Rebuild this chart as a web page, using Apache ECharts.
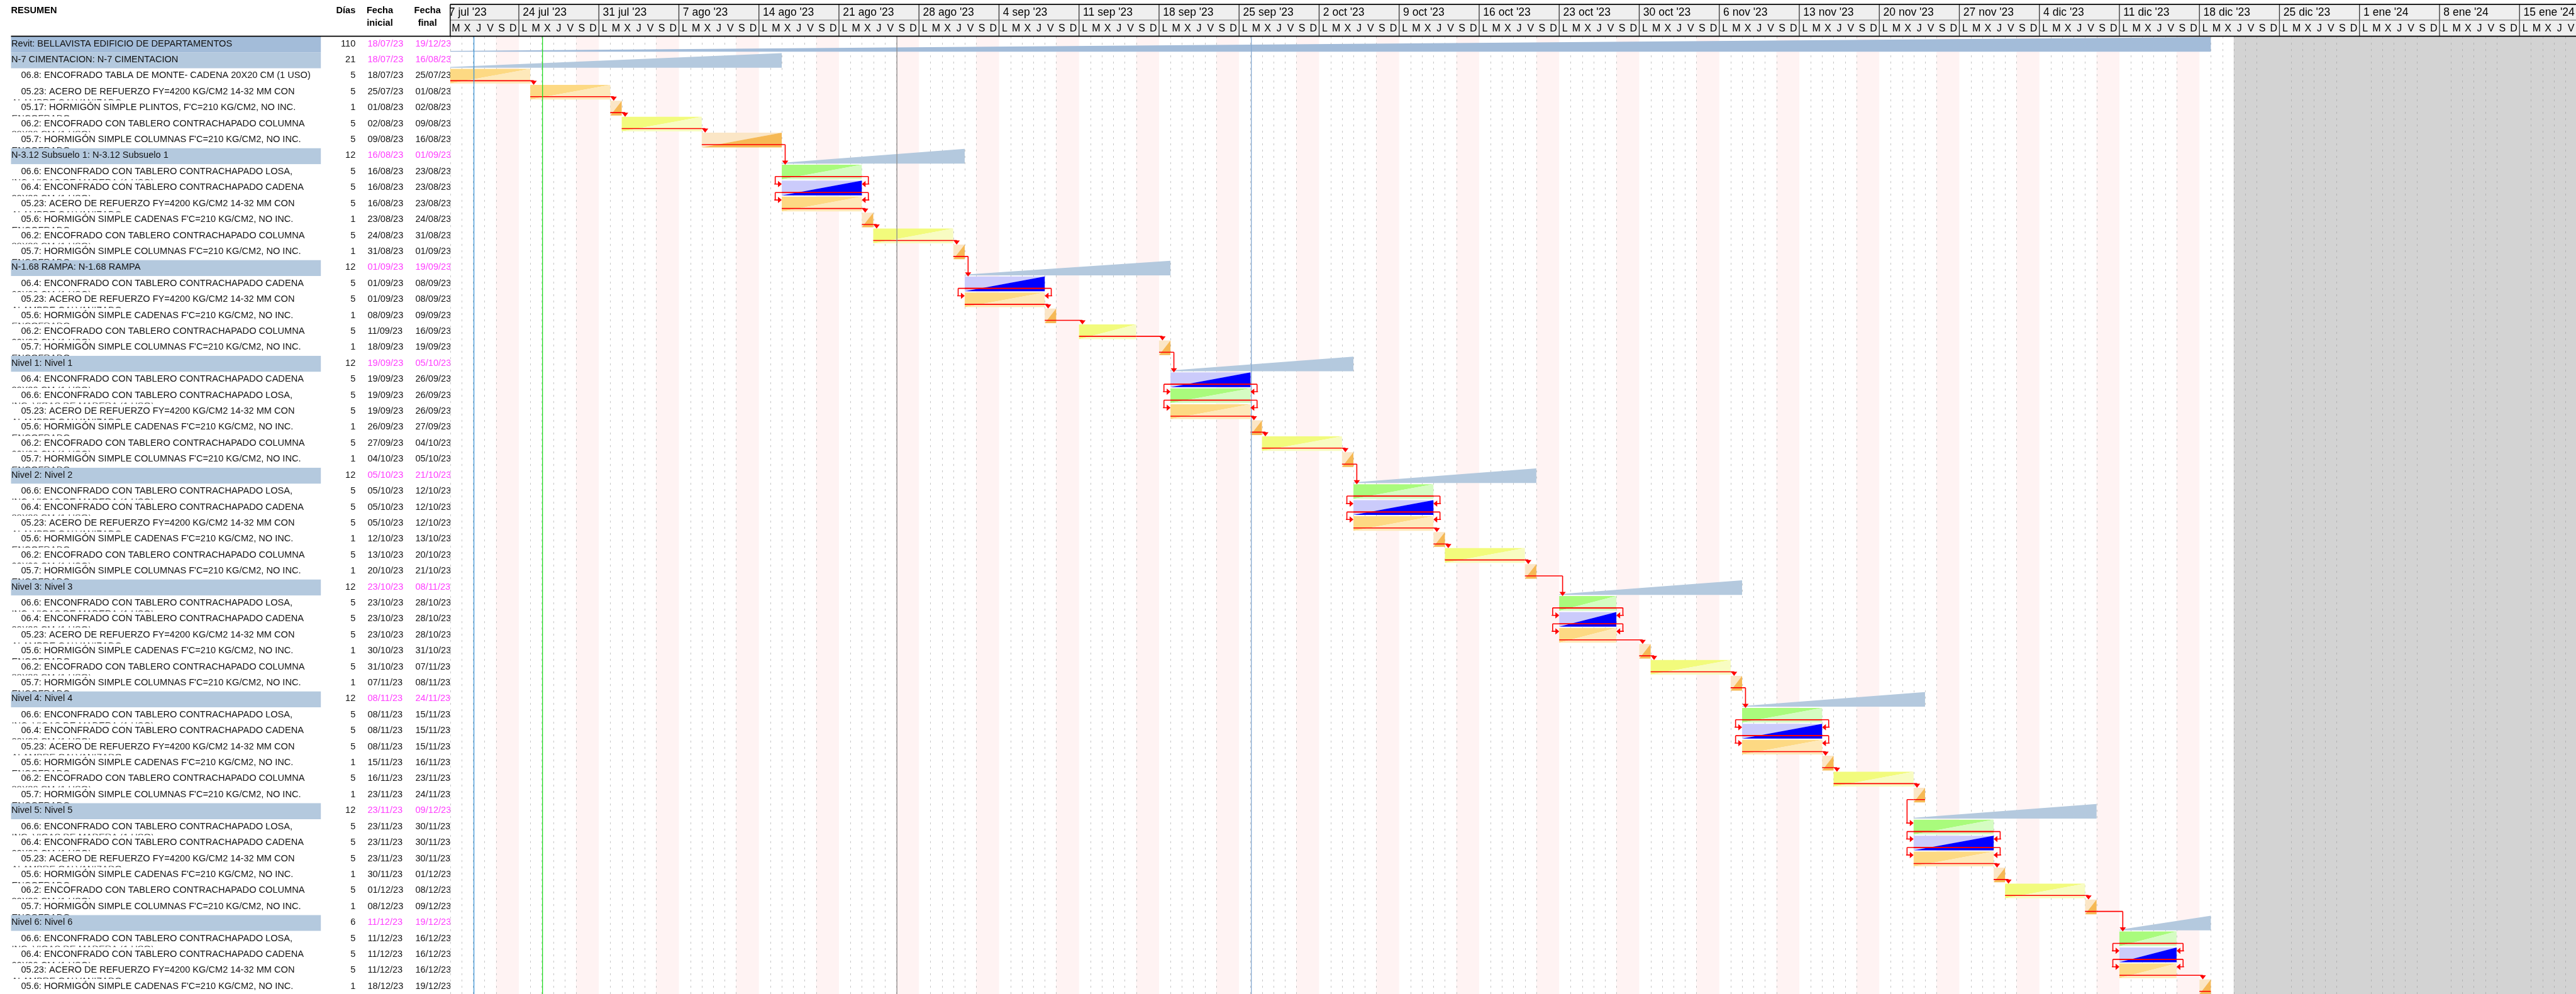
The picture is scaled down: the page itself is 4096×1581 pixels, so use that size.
<!DOCTYPE html>
<html lang="es">
<head>
<meta charset="utf-8">
<title>BELLAVISTA EDIFICIO DE DEPARTAMENTOS</title>
<script src="https://cdn.jsdelivr.net/npm/echarts@6/dist/echarts.min.js"></script>
<style>
html, body { margin: 0; padding: 0; background: #fff; }
#chart { width: 4096px; height: 1581px; }
</style>
</head>
<body>
<div id="chart"></div>
<script>
// ---- Schedule ---------------------------------------------------------------
// Work items: code -> [description, wrapped second line of the description]
const taskText = {
  '06.8': ['ENCOFRADO TABLA DE MONTE- CADENA 20X20 CM (1 USO)', ''],
  '05.23': ['ACERO DE REFUERZO FY=4200 KG/CM2 14-32 MM CON', 'ALAMBRE GALVANIZADO'],
  '05.17': ['HORMIGÓN SIMPLE PLINTOS, F\'C=210 KG/CM2, NO INC.', 'ENCOFRADO'],
  '06.2': ['ENCOFRADO CON TABLERO CONTRACHAPADO COLUMNA', '30X30 CM (1 USO)'],
  '05.7': ['HORMIGÓN SIMPLE COLUMNAS F\'C=210 KG/CM2, NO INC.', 'ENCOFRADO'],
  '06.6': ['ENCONFRADO CON TABLERO CONTRACHAPADO LOSA,', 'INC. VIGAS DE MADERA (1 USO)'],
  '06.4': ['ENCONFRADO CON TABLERO CONTRACHAPADO CADENA', '20X20 CM (1 USO)'],
  '05.6': ['HORMIGÓN SIMPLE CADENAS F\'C=210 KG/CM2, NO INC.', 'ENCOFRADO']
};

// One entry per row: project / phase names, or a work-item code
const rowItems = [
  'Revit: BELLAVISTA EDIFICIO DE DEPARTAMENTOS',
  'N-7 CIMENTACION: N-7 CIMENTACION', '06.8', '05.23', '05.17', '06.2', '05.7',
  'N-3.12 Subsuelo 1: N-3.12 Subsuelo 1', '06.6', '06.4', '05.23', '05.6', '06.2', '05.7',
  'N-1.68 RAMPA: N-1.68 RAMPA', '06.4', '05.23', '05.6', '06.2', '05.7',
  'Nivel 1: Nivel 1', '06.4', '06.6', '05.23', '05.6', '06.2', '05.7',
  'Nivel 2: Nivel 2', '06.6', '06.4', '05.23', '05.6', '06.2', '05.7',
  'Nivel 3: Nivel 3', '06.6', '06.4', '05.23', '05.6', '06.2', '05.7',
  'Nivel 4: Nivel 4', '06.6', '06.4', '05.23', '05.6', '06.2', '05.7',
  'Nivel 5: Nivel 5', '06.6', '06.4', '05.23', '05.6', '06.2', '05.7',
  'Nivel 6: Nivel 6', '06.6', '06.4', '05.23', '05.6'
];

const rowDays = [
  110,
  21, 5, 5, 1, 5, 5,
  12, 5, 5, 5, 1, 5, 1,
  12, 5, 5, 1, 5, 1,
  12, 5, 5, 5, 1, 5, 1,
  12, 5, 5, 5, 1, 5, 1,
  12, 5, 5, 5, 1, 5, 1,
  12, 5, 5, 5, 1, 5, 1,
  12, 5, 5, 5, 1, 5, 1,
  6, 5, 5, 5, 1
];

const rowStart = [
  '18/07/23',
  '18/07/23', '18/07/23', '25/07/23', '01/08/23', '02/08/23', '09/08/23',
  '16/08/23', '16/08/23', '16/08/23', '16/08/23', '23/08/23', '24/08/23', '31/08/23',
  '01/09/23', '01/09/23', '01/09/23', '08/09/23', '11/09/23', '18/09/23',
  '19/09/23', '19/09/23', '19/09/23', '19/09/23', '26/09/23', '27/09/23', '04/10/23',
  '05/10/23', '05/10/23', '05/10/23', '05/10/23', '12/10/23', '13/10/23', '20/10/23',
  '23/10/23', '23/10/23', '23/10/23', '23/10/23', '30/10/23', '31/10/23', '07/11/23',
  '08/11/23', '08/11/23', '08/11/23', '08/11/23', '15/11/23', '16/11/23', '23/11/23',
  '23/11/23', '23/11/23', '23/11/23', '23/11/23', '30/11/23', '01/12/23', '08/12/23',
  '11/12/23', '11/12/23', '11/12/23', '11/12/23', '18/12/23'
];

const rowEnd = [
  '19/12/23',
  '16/08/23', '25/07/23', '01/08/23', '02/08/23', '09/08/23', '16/08/23',
  '01/09/23', '23/08/23', '23/08/23', '23/08/23', '24/08/23', '31/08/23', '01/09/23',
  '19/09/23', '08/09/23', '08/09/23', '09/09/23', '16/09/23', '19/09/23',
  '05/10/23', '26/09/23', '26/09/23', '26/09/23', '27/09/23', '04/10/23', '05/10/23',
  '21/10/23', '12/10/23', '12/10/23', '12/10/23', '13/10/23', '20/10/23', '21/10/23',
  '08/11/23', '28/10/23', '28/10/23', '28/10/23', '31/10/23', '07/11/23', '08/11/23',
  '24/11/23', '15/11/23', '15/11/23', '15/11/23', '16/11/23', '23/11/23', '24/11/23',
  '09/12/23', '30/11/23', '30/11/23', '30/11/23', '01/12/23', '08/12/23', '09/12/23',
  '19/12/23', '16/12/23', '16/12/23', '16/12/23', '19/12/23'
];

// Dependencies: predecessor row, successor row, kind (FS = fin-inicio, SF = inicio+fin)
const linkFrom = [2, 3, 4, 5, 6, 8, 9, 10, 11, 12, 13, 15, 16, 17, 18, 19, 21, 22, 23, 24, 25, 26,
  28, 29, 30, 31, 32, 33, 35, 36, 37, 38, 39, 40, 42, 43, 44, 45, 46, 47, 49, 50, 51, 52, 53, 54, 56, 57, 58];
const linkTo = [3, 4, 5, 6, 8, 9, 10, 11, 12, 13, 15, 16, 17, 18, 19, 21, 22, 23, 24, 25, 26, 28,
  29, 30, 31, 32, 33, 35, 36, 37, 38, 39, 40, 42, 43, 44, 45, 46, 47, 49, 50, 51, 52, 53, 54, 56, 57, 58, 59];
const linkKind = ['FS', 'FS', 'FS', 'FS', 'FS', 'SF', 'SF', 'FS', 'FS', 'FS', 'FS', 'SF', 'FS', 'FS', 'FS', 'FS',
  'SF', 'SF', 'FS', 'FS', 'FS', 'FS', 'SF', 'SF', 'FS', 'FS', 'FS', 'FS', 'SF', 'SF', 'FS', 'FS', 'FS', 'FS',
  'SF', 'SF', 'FS', 'FS', 'FS', 'FS', 'SF', 'SF', 'FS', 'FS', 'FS', 'FS', 'SF', 'SF', 'FS'];

// Timeline header
const weekLabels = ["17 jul '23", "24 jul '23", "31 jul '23", "7 ago '23", "14 ago '23", "21 ago '23",
  "28 ago '23", "4 sep '23", "11 sep '23", "18 sep '23", "25 sep '23", "2 oct '23", "9 oct '23",
  "16 oct '23", "23 oct '23", "30 oct '23", "6 nov '23", "13 nov '23", "20 nov '23", "27 nov '23",
  "4 dic '23", "11 dic '23", "18 dic '23", "25 dic '23", "1 ene '24", "8 ene '24", "15 ene '24"];
const dayLetters = ['L', 'M', 'X', 'J', 'V', 'S', 'D'];

// Vertical date lines and the non-working block after the end of the project
const markerDates = ['20/07/23', '26/07/23', '26/08/23', '26/09/23'];
const markerColours = ['#3b94d6', '#22dd22', '#8c8c8c', '#86a9d2'];
const blockedFrom = '21/12/23';

// ---- Helpers ------------------------------------------------------------------
const ORIGIN = Date.UTC(2023, 6, 17); // Monday of the first header week
function dayIndex(s) {
  const p = s.split('/').map(Number);
  return (Date.UTC(2000 + p[2], p[1] - 1, p[0]) - ORIGIN) / 86400000;
}
const X_MIN = 1;
const X_MAX = 186.94;
const FAMILY = '"Liberation Sans", Arial, Helvetica, sans-serif';
const FONT_ROW = '14.6px ' + FAMILY;
const FONT_HEAD = 'bold 14.6px ' + FAMILY;
const FONT_WEEK = '17.5px ' + FAMILY;
const FONT_DAY = '16px ' + FAMILY;
const RED = '#ff0000';

const barColours = {
  '06.8': ['#fdd983', '#fee9ba'],
  '05.23': ['#fdd983', '#fee9ba'],
  '05.17': ['#fbe6c6', '#f6b955'],
  '05.6': ['#fbe6c6', '#f6b955'],
  '05.7': ['#fbe6c6', '#f6b955'],
  '06.2': ['#f2fb7c', '#f8fcc2'],
  '06.6': ['#a9fb7c', '#d5fcc2'],
  '06.4': ['#cbcbfb', '#0000ff']
};

const rowLevel = rowItems.map((it, i) => (i === 0 ? 0 : (taskText[it] ? 2 : 1)));

function seg(x1, y1, x2, y2, stroke, lw, z2, dash) {
  return { type: 'line', z2: z2 || 0, shape: { x1, y1, x2, y2 },
    style: { stroke, lineWidth: lw, lineDash: dash || null } };
}
function tri(points, fill, z2) {
  return { type: 'polygon', z2: z2 || 0, shape: { points }, style: { fill } };
}
function txt(x, y, text, font, fill, align, z2) {
  return { type: 'text', z2: z2 || 0,
    style: { x, y, text, font, fill, align, verticalAlign: 'middle',
      textAlign: align, textVerticalAlign: 'middle' } };
}

// ---- Renderers ------------------------------------------------------------------
function renderTableRow(params, api) {
  const i = params.dataIndex;
  const h = api.size([0, 1])[1];
  const top = api.coord([X_MIN, i])[1] - h / 2;
  const lvl = rowLevel[i];
  const item = rowItems[i];
  const ty = top + 0.46 * h;
  const k = [];
  if (lvl < 2) {
    k.push({ type: 'rect', z2: 2, shape: { x: 17.5, y: top, width: 492.7, height: h },
      style: { fill: lvl === 0 ? '#a3bcd9' : '#b4c9de' } });
    k.push(txt(18, ty, item, FONT_ROW, '#111', 'left', 3));
  } else {
    const desc = taskText[item][0], wrap = taskText[item][1];
    // blank the cell so the wrapped line of the row above only peeks above its edge
    k.push({ type: 'rect', z2: 2, shape: { x: 15, y: top, width: 500, height: 0.93 * h },
      style: { fill: '#ffffff' } });
    if (wrap) k.push(txt(18.4, top + 1.16 * h, wrap, FONT_ROW, '#222', 'left', 1));
    k.push(txt(33.4, ty, item + ': ' + desc, FONT_ROW, '#111', 'left', 3));
  }
  const dateFill = lvl < 2 ? '#ff3cff' : '#111';
  k.push(txt(565.3, ty, String(rowDays[i]), FONT_ROW, '#111', 'right', 3));
  k.push(txt(584.5, ty, rowStart[i], FONT_ROW, dateFill, 'left', 3));
  k.push(txt(660.5, ty, rowEnd[i], FONT_ROW, dateFill, 'left', 3));
  return { type: 'group', children: k };
}

function renderBackdrop(params, api) {
  const cs = params.coordSys;
  const gx = api.coord([api.value(0), 0])[0];
  return { type: 'group', children: [
    { type: 'rect', shape: { x: cs.x, y: cs.y, width: cs.width, height: cs.height }, style: { fill: '#ffffff' } },
    { type: 'rect', shape: { x: gx, y: cs.y, width: cs.x + cs.width - gx, height: cs.height }, style: { fill: '#d3d3d3' } }
  ] };
}

function renderWeek(params, api) {
  const cs = params.coordSys;
  const w0 = api.value(0);
  const grey = dayIndex(blockedFrom);
  const k = [];
  const sat = w0 + 5, end = Math.min(w0 + 7, grey);
  if (sat < grey) {
    const xa = api.coord([sat, 0])[0], xb = api.coord([end, 0])[0];
    k.push({ type: 'rect', z2: 1, shape: { x: xa, y: cs.y, width: xb - xa, height: cs.height },
      style: { fill: '#fff3f3' } });
  }
  for (let j = 1; j <= 5; j++) {
    const d = w0 + j;
    const x = Math.round(api.coord([d, 0])[0]) + 0.5;
    k.push(seg(x, cs.y, x, cs.y + cs.height, d >= grey ? '#b2b2b2' : '#c6c6c6', 1, 2, [3.3, 6.7]));
  }
  return { type: 'group', children: k };
}

function renderBar(params, api) {
  const i = params.dataIndex;
  const h = api.size([0, 1])[1];
  const p0 = api.coord([api.value(0), i]);
  const p1 = api.coord([api.value(1), i]);
  const x0 = p0[0], x1 = p1[0], top = p0[1] - h / 2;
  const lvl = rowLevel[i];
  if (lvl < 2) {
    const yt = top + 0.043 * h, yb = top + 0.96 * h;
    return tri([[x0, yb - 1.2], [x1, yt], [x1, yb], [x0, yb]], lvl === 0 ? '#a3bcd9' : '#b4c9de', 1);
  }
  const c = barColours[rowItems[i]];
  const yt = top + 0.03 * h, yb = top + 0.95 * h, yl = top + 0.772 * h;
  return { type: 'group', children: [
    tri([[x0, yt], [x1, yt], [x0, yb]], c[0], 1),
    tri([[x1, yt], [x1, yb], [x0, yb]], c[1], 1),
    seg(x0, yl, x1, yl, RED, 1.6, 3)
  ] };
}

function renderMarker(params, api) {
  const cs = params.coordSys;
  const x = api.coord([api.value(0), 0])[0] + 1.3;
  return seg(x, cs.y, x, cs.y + cs.height, markerColours[params.dataIndex], 1.3, 1);
}

function renderLink(params, api) {
  const h = api.size([0, 1])[1];
  const pr = api.value(2), sr = api.value(5), kind = api.value(6);
  const pp = api.coord([api.value(0), pr]);
  const xps = pp[0], xpe = api.coord([api.value(1), pr])[0];
  const sp = api.coord([api.value(3), sr]);
  const xss = sp[0], xse = api.coord([api.value(4), sr])[0];
  const topP = pp[1] - h / 2, topS = sp[1] - h / 2;
  const yl = topP + 0.772 * h;
  const ya = topS + 0.24 * h;
  const lw = 1.6;
  const k = [];
  const arrowRight = (tx, ty) => tri([[tx - 6, ty - 5], [tx - 6, ty + 5], [tx, ty]], RED, 4);
  const arrowLeft = (tx, ty) => tri([[tx + 6, ty - 5], [tx + 6, ty + 5], [tx, ty]], RED, 4);
  if (kind === 0) {
    if (xss >= xpe - 0.5) {
      const xt = Math.max(xpe, xss) + 5.4;
      const tipY = topS + 0.03 * h;
      k.push(seg(xpe, yl, xt, yl, RED, lw, 3));
      k.push(seg(xt, yl, xt, tipY - 4, RED, lw, 3));
      k.push(tri([[xt - 5, tipY - 6.5], [xt + 5, tipY - 6.5], [xt, tipY]], RED, 4));
    } else {
      const xl = xss - 10.4;
      k.push(seg(xl, yl, xps, yl, RED, lw, 3));
      k.push(seg(xl, yl, xl, ya, RED, lw, 3));
      k.push(seg(xl - 1.5, ya, xss - 5, ya, RED, lw, 3));
      k.push(arrowRight(xss, ya));
    }
  } else {
    const xl = Math.min(xps, xss) - 10.4, xr = Math.max(xpe, xse) + 10.4;
    k.push(seg(xl, yl, xr, yl, RED, lw, 3));
    k.push(seg(xl, yl, xl, ya, RED, lw, 3));
    k.push(seg(xr, yl, xr, ya, RED, lw, 3));
    k.push(seg(xl - 1.5, ya, xss - 5, ya, RED, lw, 3));
    k.push(seg(xr + 1.5, ya, xse + 5, ya, RED, lw, 3));
    k.push(arrowRight(xss, ya));
    k.push(arrowLeft(xse, ya));
  }
  return { type: 'group', children: k };
}

function renderWeekHeader(params, api) {
  const cs = params.coordSys;
  const w0 = api.value(0), n = params.dataIndex;
  const x0 = api.coord([w0, 0])[0], x1 = api.coord([w0 + 7, 0])[0];
  const top = cs.y, bot = cs.y + cs.height, mid = 32;
  const c = [
    { type: 'rect', z2: 1, shape: { x: x0, y: top, width: x1 - x0, height: bot - top }, style: { fill: '#efefef' } },
    seg(x0, top, x0, bot, '#333333', 1.3, 2),
    txt(x0 + 6.4, (top + mid) / 2 + 0.6, weekLabels[n], FONT_WEEK, '#000', 'left', 3)
  ];
  for (let j = 0; j < 7; j++) {
    c.push(txt(api.coord([w0 + j + 0.5, 0])[0], (mid + bot) / 2 + 0.4, dayLetters[j], FONT_DAY, '#000', 'center', 3));
  }
  return { type: 'group', children: c };
}

// ---- Chart ----------------------------------------------------------------------
const chart = echarts.init(document.getElementById('chart'), null, { renderer: 'canvas', width: 4096, height: 1581 });

const option = {
  animation: false,
  backgroundColor: '#ffffff',
  grid: [
    { left: 715.9, right: 0, top: 57.9, height: 1524.6, containLabel: false, outerBoundsMode: 'none' },
    { left: 715.9, right: 0, top: 6.9, height: 50.7, containLabel: false, outerBoundsMode: 'none' }
  ],
  xAxis: [
    { type: 'value', gridIndex: 0, min: X_MIN, max: X_MAX, show: false },
    { type: 'value', gridIndex: 1, min: X_MIN, max: X_MAX, show: false }
  ],
  yAxis: [
    { type: 'category', gridIndex: 0, data: rowItems.map((_, i) => String(i)), inverse: true, show: false },
    { type: 'value', gridIndex: 1, min: 0, max: 1, show: false }
  ],
  graphic: [
    { type: 'text', z: 100, x: 17.5, y: 17, style: { text: 'RESUMEN', font: FONT_HEAD, fill: '#000', textAlign: 'left', textVerticalAlign: 'middle', align: 'left', verticalAlign: 'middle' } },
    { type: 'text', z: 100, x: 565.3, y: 17, style: { text: 'Días', font: FONT_HEAD, fill: '#000', textAlign: 'right', textVerticalAlign: 'middle', align: 'right', verticalAlign: 'middle' } },
    { type: 'text', z: 100, x: 604, y: 17, style: { text: 'Fecha', font: FONT_HEAD, fill: '#000', textAlign: 'center', textVerticalAlign: 'middle', align: 'center', verticalAlign: 'middle' } },
    { type: 'text', z: 100, x: 604, y: 37, style: { text: 'inicial', font: FONT_HEAD, fill: '#000', textAlign: 'center', textVerticalAlign: 'middle', align: 'center', verticalAlign: 'middle' } },
    { type: 'text', z: 100, x: 679.7, y: 17, style: { text: 'Fecha', font: FONT_HEAD, fill: '#000', textAlign: 'center', textVerticalAlign: 'middle', align: 'center', verticalAlign: 'middle' } },
    { type: 'text', z: 100, x: 679.7, y: 37, style: { text: 'final', font: FONT_HEAD, fill: '#000', textAlign: 'center', textVerticalAlign: 'middle', align: 'center', verticalAlign: 'middle' } },
    { type: 'line', z: 100, shape: { x1: 715.9, y1: 6.9, x2: 4096, y2: 6.9 }, style: { stroke: '#000', lineWidth: 1.7 } },
    { type: 'line', z: 100, shape: { x1: 715.9, y1: 32, x2: 4096, y2: 32 }, style: { stroke: '#666', lineWidth: 1.2 } },
    { type: 'line', z: 100, shape: { x1: 17.5, y1: 57.6, x2: 4096, y2: 57.6 }, style: { stroke: '#000', lineWidth: 1.7 } },
    { type: 'line', z: 100, shape: { x1: 715.9, y1: 6.9, x2: 715.9, y2: 57.6 }, style: { stroke: '#000', lineWidth: 1.5 } }
  ],
  series: [
    {
      type: 'custom', name: 'tabla', xAxisIndex: 0, yAxisIndex: 0, z: 1, clip: false, silent: true,
      data: rowItems.map((_, i) => [X_MIN, i]), encode: { x: 0, y: 1 },
      renderItem: renderTableRow
    },
    {
      type: 'custom', name: 'fondo', xAxisIndex: 0, yAxisIndex: 0, z: 2, clip: true, silent: true,
      data: [[dayIndex(blockedFrom), 0]], encode: { x: 0, y: 1 },
      renderItem: renderBackdrop
    },
    {
      type: 'custom', name: 'calendario', xAxisIndex: 0, yAxisIndex: 0, z: 3, clip: true, silent: true,
      data: weekLabels.map((_, k) => [7 * k, 0]), encode: { x: 0, y: 1 },
      renderItem: renderWeek
    },
    {
      type: 'custom', name: 'tareas', xAxisIndex: 0, yAxisIndex: 0, z: 4, clip: true, silent: true,
      data: rowItems.map((_, i) => [dayIndex(rowStart[i]), dayIndex(rowEnd[i]), i]), encode: { x: [0, 1], y: 2 },
      renderItem: renderBar
    },
    {
      type: 'custom', name: 'fechas', xAxisIndex: 0, yAxisIndex: 0, z: 5, clip: true, silent: true,
      data: markerDates.map((d) => [dayIndex(d), 0]), encode: { x: 0, y: 1 },
      renderItem: renderMarker
    },
    {
      type: 'custom', name: 'dependencias', xAxisIndex: 0, yAxisIndex: 0, z: 6, clip: true, silent: true,
      data: linkFrom.map((a, n) => {
        const b = linkTo[n];
        return [dayIndex(rowStart[a]), dayIndex(rowEnd[a]), a, dayIndex(rowStart[b]), dayIndex(rowEnd[b]), b,
          linkKind[n] === 'FS' ? 0 : 1];
      }),
      encode: { x: [0, 1, 3, 4], y: [2, 5] },
      renderItem: renderLink
    },
    {
      type: 'custom', name: 'semanas', xAxisIndex: 1, yAxisIndex: 1, z: 7, clip: true, silent: true,
      data: weekLabels.map((_, k) => [7 * k, 0.5]), encode: { x: 0, y: 1 },
      renderItem: renderWeekHeader
    }
  ]
};

chart.setOption(option);
</script>
</body>
</html>
